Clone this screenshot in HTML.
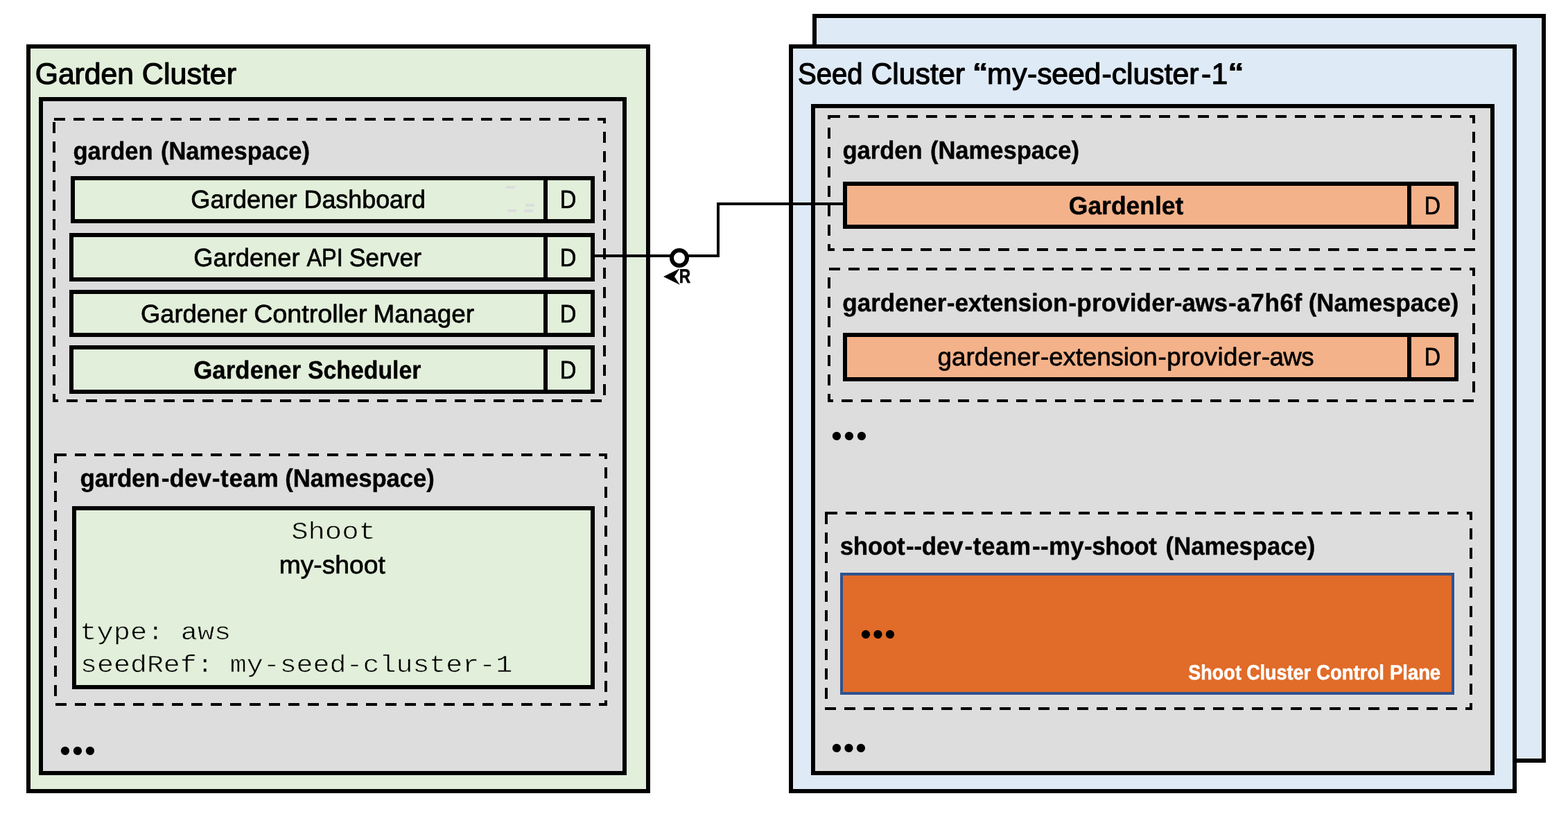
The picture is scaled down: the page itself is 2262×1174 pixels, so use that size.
<!DOCTYPE html>
<html lang="en">
<head>
<meta charset="utf-8">
<title>Gardener architecture: Garden Cluster and Seed Cluster</title>
<style>
html,body{margin:0;padding:0;background:#fff}
body{width:2262px;height:1174px}
svg{display:block;will-change:transform}
text{white-space:pre;text-rendering:geometricPrecision;stroke-linejoin:round}
.s{font-family:"Liberation Sans",sans-serif}
.m{font-family:"Liberation Mono",monospace}
.b{font-weight:bold}
.box{shape-rendering:crispEdges}
</style>
</head>
<body>
<svg width="2262" height="1174" viewBox="0 0 2262 1174">
<rect width="2262" height="1174" fill="#fff"/>
<!-- Garden Cluster -->
<g id="garden-cluster">
<g class="box">
<rect x="41" y="67" width="894" height="1074" fill="#E2EFDA" stroke="#000" stroke-width="6"/>
<rect x="59" y="143" width="842" height="972" fill="#DDDDDD" stroke="#000" stroke-width="6"/>
<rect x="78" y="172" width="794" height="406" fill="none" stroke="#000" stroke-width="4" stroke-dasharray="16 12"/>
<rect x="105" y="257" width="750" height="62" fill="#E2EFDA" stroke="#000" stroke-width="6"/>
<rect x="784" y="254" width="6" height="68" fill="#000"/>
<rect x="103" y="339" width="752" height="64" fill="#E2EFDA" stroke="#000" stroke-width="6"/>
<rect x="784" y="336" width="6" height="70" fill="#000"/>
<rect x="103" y="421" width="752" height="62" fill="#E2EFDA" stroke="#000" stroke-width="6"/>
<rect x="784" y="418" width="6" height="68" fill="#000"/>
<rect x="103" y="501" width="752" height="64" fill="#E2EFDA" stroke="#000" stroke-width="6"/>
<rect x="784" y="498" width="6" height="70" fill="#000"/>
<rect x="730" y="268" width="13" height="4" fill="#DDDDDD"/>
<rect x="758" y="294" width="13" height="4" fill="#DDDDDD"/>
<rect x="732" y="302" width="13" height="4" fill="#DDDDDD"/>
<rect x="756" y="302" width="13" height="4" fill="#DDDDDD"/>
<rect x="80" y="656" width="794" height="360" fill="none" stroke="#000" stroke-width="4" stroke-dasharray="16 12"/>
<rect x="107" y="733" width="748" height="258" fill="#E2EFDA" stroke="#000" stroke-width="6"/>
</g>
<text y="121" class="s" font-size="42.7" stroke="#000" stroke-width="1.2"><tspan x="50.72" textLength="142.30" lengthAdjust="spacingAndGlyphs" dx="0 -0.08 -0.08 -0.08 -0.08 -0.08">Garden</tspan> <tspan x="204.88" textLength="136.21" lengthAdjust="spacingAndGlyphs">Cluster</tspan></text>
<text y="230" class="s b" font-size="36.3" stroke="#000" stroke-width="0.4"><tspan x="105.40" textLength="115.24" lengthAdjust="spacingAndGlyphs">garden</tspan> <tspan x="231.90" textLength="215.02" lengthAdjust="spacingAndGlyphs">(Namespace)</tspan></text>
<text y="300" class="s" font-size="36.4" stroke="#000" stroke-width="0.7"><tspan x="275.30" textLength="153.21" lengthAdjust="spacingAndGlyphs">Gardener</tspan> <tspan x="438.54" textLength="175.37" lengthAdjust="spacingAndGlyphs">Dashboard</tspan></text>
<text y="300" class="s" font-size="36.4" stroke="#000" stroke-width="0.7"><tspan x="807.80" textLength="23.67" lengthAdjust="spacingAndGlyphs">D</tspan></text>
<text y="384" class="s" font-size="36.4" stroke="#000" stroke-width="0.7"><tspan x="279.30" textLength="153.21" lengthAdjust="spacingAndGlyphs">Gardener</tspan> <tspan x="442.43" textLength="52.40" lengthAdjust="spacingAndGlyphs" dx="0 -0.07 -0.07">API</tspan> <tspan x="503.70" textLength="104.28" lengthAdjust="spacingAndGlyphs" dx="0 -0.1 -0.1 -0.1 -0.1 -0.1">Server</tspan></text>
<text y="384" class="s" font-size="36.4" stroke="#000" stroke-width="0.7"><tspan x="807.80" textLength="23.67" lengthAdjust="spacingAndGlyphs">D</tspan></text>
<text y="465" class="s" font-size="36.4" stroke="#000" stroke-width="0.7"><tspan x="203.00" textLength="153.64" lengthAdjust="spacingAndGlyphs">Gardener</tspan> <tspan x="366.16" textLength="163.33" lengthAdjust="spacingAndGlyphs">Controller</tspan> <tspan x="538.63" textLength="145.37" lengthAdjust="spacingAndGlyphs" dx="0 -0.05 -0.05 -0.05 -0.05 -0.05 -0.05">Manager</tspan></text>
<text y="465" class="s" font-size="36.4" stroke="#000" stroke-width="0.7"><tspan x="807.80" textLength="23.67" lengthAdjust="spacingAndGlyphs">D</tspan></text>
<text y="546" class="s b" font-size="36.3" stroke="#000" stroke-width="0.4"><tspan x="279.20" textLength="155.12" lengthAdjust="spacingAndGlyphs" dx="0 0.09 0.09 0.09 0.09 0.09 0.09 0.09">Gardener</tspan> <tspan x="443.89" textLength="163.64" lengthAdjust="spacingAndGlyphs">Scheduler</tspan></text>
<text y="546" class="s" font-size="36.4" stroke="#000" stroke-width="0.7"><tspan x="807.80" textLength="23.67" lengthAdjust="spacingAndGlyphs">D</tspan></text>
<text y="702" class="s b" font-size="36.3" stroke="#000" stroke-width="0.4"><tspan x="115.60" textLength="286.28" lengthAdjust="spacingAndGlyphs" dx="0 -0.43 -0.43 -0.43 -0.43 -0.43 2.06 0.02 0.02 0.02 0.78 0.59 0.59 0.59 0.59">garden-dev-team</tspan> <tspan x="411.30" textLength="215.57" lengthAdjust="spacingAndGlyphs" dx="0 -0.05 -0.05 -0.05 -0.05 -0.05 -0.05 -0.05 -0.05 -0.05 -0.05">(Namespace)</tspan></text>
<text y="777" class="m" font-size="35" stroke="#E2EFDA" stroke-width="0.6"><tspan x="420.26" textLength="121.66" lengthAdjust="spacingAndGlyphs" dx="0 -0.1 -0.1 -0.1 -0.1">Shoot</tspan></text>
<text y="827" class="s" font-size="36.4" stroke="#000" stroke-width="0.7"><tspan x="402.70" textLength="153.07" lengthAdjust="spacingAndGlyphs">my-shoot</tspan></text>
<text y="922" class="m" font-size="35" stroke="#E2EFDA" stroke-width="0.6"><tspan x="115.39" textLength="217.97" lengthAdjust="spacingAndGlyphs">type: aws</tspan></text>
<text y="969" class="m" font-size="35" stroke="#E2EFDA" stroke-width="0.6"><tspan x="116.02" textLength="623.20" lengthAdjust="spacingAndGlyphs">seedRef: my-seed-cluster-1</tspan></text>
<text class="s" x="86.06 104.06 122.06" y="1098" font-size="45.4">•••</text>
</g>
<!-- Seed Cluster (stacked) -->
<g id="seed-cluster">
<g class="box">
<rect x="1175" y="23" width="1052" height="1074" fill="#DEEAF6" stroke="#000" stroke-width="6"/>
<rect x="1141" y="67" width="1044" height="1074" fill="#DEEAF6" stroke="#000" stroke-width="6"/>
<rect x="1173" y="153" width="980" height="962" fill="#DDDDDD" stroke="#000" stroke-width="6"/>
<rect x="1196" y="168" width="930" height="192" fill="none" stroke="#000" stroke-width="4" stroke-dasharray="16 12"/>
<rect x="1219" y="265" width="882" height="62" fill="#F4B28A" stroke="#000" stroke-width="6"/>
<rect x="2030" y="262" width="6" height="68" fill="#000"/>
<rect x="1196" y="388" width="930" height="190" fill="none" stroke="#000" stroke-width="4" stroke-dasharray="16 12"/>
<rect x="1219" y="483" width="882" height="64" fill="#F4B28A" stroke="#000" stroke-width="6"/>
<rect x="2030" y="480" width="6" height="70" fill="#000"/>
<rect x="1192" y="740" width="930" height="282" fill="none" stroke="#000" stroke-width="4" stroke-dasharray="16 12"/>
<rect x="1214" y="828" width="882" height="172" fill="#E16B28" stroke="#2F528F" stroke-width="4"/>
</g>
<text y="121" class="s" font-size="42.7" stroke="#000" stroke-width="1.2"><tspan x="1151.00" textLength="93.65" lengthAdjust="spacingAndGlyphs">Seed</tspan> <tspan x="1256.39" textLength="135.63" lengthAdjust="spacingAndGlyphs">Cluster</tspan> <tspan x="1404.50" textLength="19.22" lengthAdjust="spacingAndGlyphs">“</tspan><tspan x="1424.04" textLength="347.20" lengthAdjust="spacingAndGlyphs" dx="0 0.6 0.48 -0.2 -0.2 -0.2 -0.2 1.14 0 0 0 0 0 0 0 3.33 0.3">my-seed-cluster-1</tspan><tspan x="1773.10" textLength="19.93" lengthAdjust="spacingAndGlyphs">“</tspan></text>
<text y="229" class="s b" font-size="36.3" stroke="#000" stroke-width="0.4"><tspan x="1215.40" textLength="115.24" lengthAdjust="spacingAndGlyphs">garden</tspan> <tspan x="1341.90" textLength="215.02" lengthAdjust="spacingAndGlyphs">(Namespace)</tspan></text>
<text y="309" class="s b" font-size="36.3" stroke="#000" stroke-width="0.4"><tspan x="1541.80" textLength="165.51" lengthAdjust="spacingAndGlyphs">Gardenlet</tspan></text>
<text y="309" class="s" font-size="36.4" stroke="#000" stroke-width="0.7"><tspan x="2054.80" textLength="23.39" lengthAdjust="spacingAndGlyphs">D</tspan></text>
<text y="449" class="s b" font-size="36.3" stroke="#000" stroke-width="0.4"><tspan x="1215.20" textLength="663.04" lengthAdjust="spacingAndGlyphs" dx="0 -0.06 -0.06 -0.06 -0.06 -0.06 -0.06 -0.06 0.48 -0.15 -0.15 -0.15 -0.15 -0.15 -0.15 -0.15 -0.15 -0.15 1.19 0.05 0.05 0.05 0.05 0.05 0.05 0.05 0.05 -0.68 -0.35 -0.35 -0.35 1.04 0.54 0.54 0.54 0.54 0.54">gardener-extension-provider-aws-a7h6f</tspan> <tspan x="1887.80" textLength="216.53" lengthAdjust="spacingAndGlyphs" dx="0 -0.05 -0.05 -0.05 -0.05 -0.05 -0.05 -0.05 -0.05 -0.05 -0.05">(Namespace)</tspan></text>
<text y="527" class="s" font-size="36.4" stroke="#000" stroke-width="0.7"><tspan x="1352.40" textLength="543.19" lengthAdjust="spacingAndGlyphs" dx="0 0.07 0.07 0.07 0.07 0.07 0.07 0.07 1.01 -0.13 -0.13 -0.13 -0.13 -0.13 -0.13 -0.13 -0.13 -0.13 0.93 0.42 0.42 0.42 0.42 0.42 0.42 0.42 0.42 0.75 -0.59 -0.59 -0.59">gardener-extension-provider-aws</tspan></text>
<text y="527" class="s" font-size="36.4" stroke="#000" stroke-width="0.7"><tspan x="2054.80" textLength="23.39" lengthAdjust="spacingAndGlyphs">D</tspan></text>
<text y="800" class="s b" font-size="36.3" stroke="#000" stroke-width="0.4"><tspan x="1211.70" textLength="457.08" lengthAdjust="spacingAndGlyphs" dx="0 -0.29 -0.29 -0.29 -0.29 1.44 -0.32 -0.32 -0.32 -0.32 2.18 0.62 0.62 0.62 0.62 1.96 0.31 0.31 0.31 0.33 -0.42 -0.42 -0.42 -0.42 -0.42">shoot--dev-team--my-shoot</tspan> <tspan x="1681.60" textLength="215.63" lengthAdjust="spacingAndGlyphs">(Namespace)</tspan></text>
<text y="980" class="s b" font-size="29.9" fill="#fff" stroke="#fff" stroke-width="0.6"><tspan x="1714.22" textLength="76.65" lengthAdjust="spacingAndGlyphs" dx="0 0.13 0.13 0.13 0.13">Shoot</tspan> <tspan x="1798.18" textLength="92.80" lengthAdjust="spacingAndGlyphs">Cluster</tspan> <tspan x="1899.05" textLength="97.96" lengthAdjust="spacingAndGlyphs">Control</tspan> <tspan x="2005.10" textLength="73.06" lengthAdjust="spacingAndGlyphs" dx="0 -0.08 -0.08 -0.08 -0.08">Plane</tspan></text>
<text class="s" x="1199.06 1217.06 1235.06" y="644" font-size="45.4">•••</text>
<text class="s" x="1241.06 1258.56 1276.06" y="930" font-size="45.4">•••</text>
<text class="s" x="1199.06 1216.56 1234.06" y="1094" font-size="45.4">•••</text>
</g>
<!-- Connector: Gardenlet to Gardener API Server -->
<g id="connector">
<polyline class="box" points="858,369 1036,369 1036,294 1216,294" fill="none" stroke="#000" stroke-width="4" stroke-linejoin="miter"/>
<circle cx="980" cy="372" r="11" fill="#fff" stroke="#000" stroke-width="6"/>
<polygon points="957,399 980.6,387.3 973,399 980.8,410.8" fill="#000"/>
<text y="408" class="s b" font-size="28.6" stroke="#000" stroke-width="0.6"><tspan x="979.73" textLength="16.41" lengthAdjust="spacingAndGlyphs">R</tspan></text>
</g>
</svg>
</body>
</html>
